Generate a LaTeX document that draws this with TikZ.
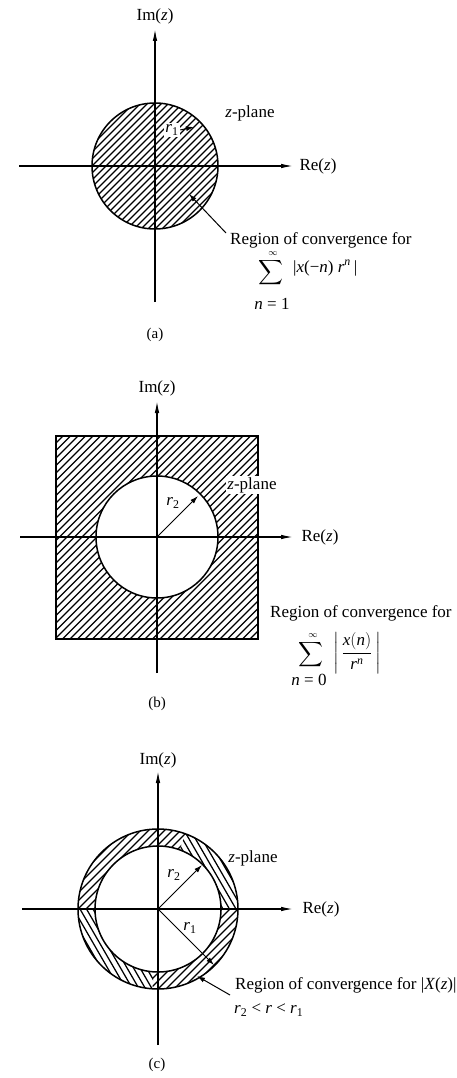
\documentclass[tikz,border=0pt]{standalone}
\usepackage{amsmath}
\usepackage{exscale}
\usepackage{fontspec}
\setmainfont{Liberation Serif}
\usetikzlibrary{arrows.meta}
\begin{document}
\begin{tikzpicture}[x=1pt,y=-1pt,
  axis/.style={line width=1.2pt,-{Latex[length=12pt,width=4.5pt]}},
  rim/.style={line width=1.5pt},
  hatch/.style={line width=1.25pt},
  lbl/.style={font=\fontsize{17}{20}\selectfont, inner sep=1pt},
  panelcap/.style={font=\fontsize{15}{18}\selectfont, inner sep=1pt},
  ptr/.style={line width=1pt,-{Latex[length=8pt,width=5pt]}},
  sumsym/.style={font=\fontsize{16}{19}\selectfont, inner sep=0pt},
  infty/.style={font=\fontsize{9}{10}\selectfont, inner sep=0pt}
]
\useasboundingbox (0,0) rectangle (457,1078);

% ---------------- (a) ----------------
\coordinate (ca) at (155,166);
\begin{scope}
  \clip (ca) circle[radius=63];
  \foreach \i in {-105,-98,...,105}
    \draw[hatch] ({155+\i-80},246) -- ({155+\i+80},86);
\end{scope}
\draw[rim] (ca) circle[radius=63];
\coordinate (avb) at (155,302); \coordinate (avt) at (155,29);
\draw[axis] (avb) -- (avt);
\coordinate (ahl) at (19,166); \coordinate (ahr) at (293,166);
\draw[axis] (ahl) -- (ahr);
\node[lbl] (ima) at (155,16) {Im(\textit{z})};
\node[lbl] (rea) at (318,166) {Re(\textit{z})};
\node[lbl] (zpa) at (250,113) {\textit{z}-plane};
\node[lbl, fill=white, inner sep=1.5pt] (r1a) at (172,130) {\textit{r}\textsubscript{1}};
\coordinate (r1at) at (194,127);
\draw[ptr] (r1a.east) -- (r1at);
\node[lbl, anchor=west] (rega) at (229,240) {Region of convergence for};
\coordinate (pa1) at (226,233); \coordinate (pa2) at (189,194);
\draw[ptr] (pa1) -- (pa2);
\node[sumsym] (suma) at (271,273) {$\displaystyle\sum$};
\node[infty] (infa) at (273,254) {$\infty$};
\node[lbl] (na) at (272,304) {\textit{n} = 1};
\node[lbl, anchor=west] (expa) at (292,268) {|\textit{x}(−\textit{n}) \textit{r}\textsuperscript{\textit{n}}\,|};
\node[panelcap] (capa) at (155,335) {(a)};

% ---------------- (b) ----------------
\coordinate (cb) at (157,537);
\begin{scope}[even odd rule]
  \clip (56,436) rectangle (258,639) (cb) circle[radius=61];
  \foreach \i in {-210,-202.5,...,210}
    \draw[hatch] ({157+\i-150},687) -- ({157+\i+150},387);
\end{scope}
\draw[rim] (56,436) rectangle (258,639);
\draw[rim] (cb) circle[radius=61];
\coordinate (bvb) at (157,673); \coordinate (bvt) at (157,401);
\draw[axis] (bvb) -- (bvt);
\coordinate (bhl) at (20,537); \coordinate (bhr) at (293,537);
\draw[axis] (bhl) -- (bhr);
\node[lbl] (imb) at (157,388) {Im(\textit{z})};
\node[lbl] (reb) at (320,537) {Re(\textit{z})};
\node[lbl, fill=white, inner sep=1.5pt] (zpb) at (252,485) {\textit{z}-plane};
\coordinate (r2bt) at (198,496);
\draw[ptr] (cb) -- (r2bt);
\node[lbl] (r2b) at (173,503) {\textit{r}\textsubscript{2}};
\node[lbl, anchor=west] (regb) at (269,613) {Region of convergence for};
\node[sumsym] (sumb) at (311,655) {$\displaystyle\sum$};
\node[infty] (infb) at (313,636) {$\infty$};
\node[lbl] (nb) at (309,680) {\textit{n} = 0};
\node[font=\fontsize{17}{20}\selectfont, inner sep=0pt] (fracb) at (357,653)
  {$\left|\,\dfrac{\textit{x}(\textit{n})}{\textit{r}^{\textit{n}}}\,\right|$};
\node[panelcap] (capb) at (157,704) {(b)};

% ---------------- (c) ----------------
\coordinate (cc) at (158,909);
\foreach \a/\b/\dx/\dy/\s in {70/180/1/-1/8, 180/266/0.5/0.866/6.5, 266/360/1/-1/8, 0/70/0.5/0.866/6.5}{
  \begin{scope}
    \clip (cc) -- ({158+200*cos(\a)},{909-200*sin(\a)})
      -- ({158+200*cos((2*\a+\b)/3)},{909-200*sin((2*\a+\b)/3)})
      -- ({158+200*cos((\a+2*\b)/3)},{909-200*sin((\a+2*\b)/3)})
      -- ({158+200*cos(\b)},{909-200*sin(\b)}) -- cycle;
    \begin{scope}[even odd rule]
    \clip (cc) circle[radius=80] (cc) circle[radius=63];
    \foreach \k in {-20,...,20}
      \draw[hatch] ({158+\k*\s-130*\dx},{909-130*\dy}) -- ({158+\k*\s+130*\dx},{909+130*\dy});
    \end{scope}
  \end{scope}
}
\draw[rim] (cc) circle[radius=80];
\draw[rim] (cc) circle[radius=63];
\coordinate (cvb) at (158,1045); \coordinate (cvt) at (158,771);
\draw[axis] (cvb) -- (cvt);
\coordinate (chl) at (22,909); \coordinate (chr) at (293,909);
\draw[axis] (chl) -- (chr);
\node[lbl] (imc) at (158,760) {Im(\textit{z})};
\node[lbl] (rec) at (321,909) {Re(\textit{z})};
\node[lbl] (zpc) at (253,858) {\textit{z}-plane};
\coordinate (r2ct) at (202,865);
\draw[ptr] (cc) -- (r2ct);
\node[lbl] (r2c) at (174,875) {\textit{r}\textsubscript{2}};
\coordinate (r1ct) at (214,965);
\draw[ptr] (cc) -- (r1ct);
\node[lbl] (r1c) at (190,928) {\textit{r}\textsubscript{1}};
\node[lbl, anchor=west] (regc) at (234,985) {Region of convergence for |\textit{X}(\textit{z})|};
\coordinate (pc1) at (230,995); \coordinate (pc2) at (197,976);
\draw[ptr] (pc1) -- (pc2);
\node[lbl, anchor=west] (ineqc) at (233,1010) {\textit{r}\textsubscript{2} < \textit{r} < \textit{r}\textsubscript{1}};
\node[panelcap] (capc) at (157,1065) {(c)};
\end{tikzpicture}
\end{document}
